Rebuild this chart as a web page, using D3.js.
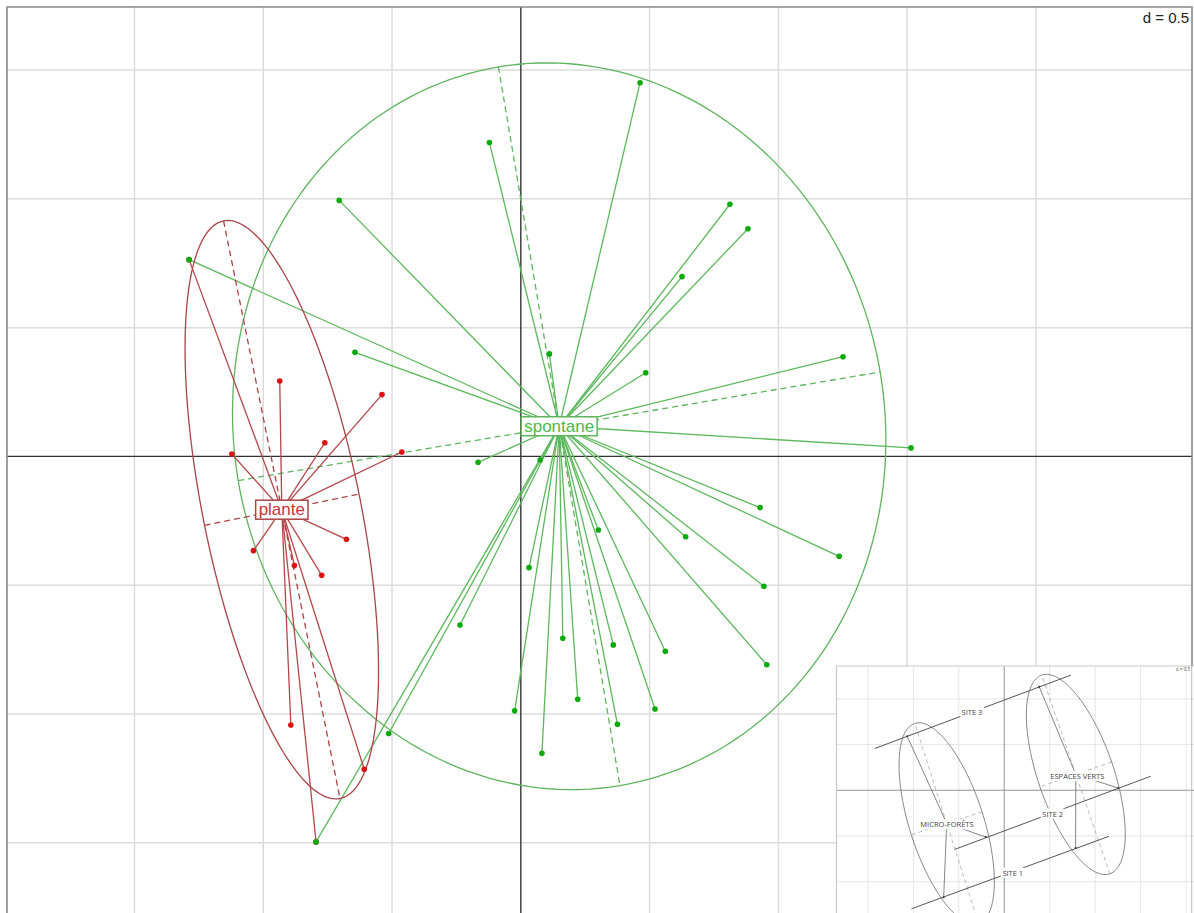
<!DOCTYPE html>
<html><head><meta charset="utf-8">
<script src="https://cdn.jsdelivr.net/npm/d3@7"></script>
<style>body{margin:0;background:#fff}svg{display:block}</style>
</head><body><svg id="c" width="1194" height="913"></svg>
<script>
// ---------- main chart data (s.class, d = 0.5) ----------
const classNames = ["spontane", "plante"];
const spontaneX = [0.463,-0.122,-0.705,0.812,0.882,0.626,-1.288,-0.644,0.111,0.485,1.251,1.515,-0.166,0.929,0.301,0.640,1.236,0.032,0.944,-0.236,0.163,0.359,0.561,0.955,0.221,-0.024,0.521,0.375,0.082,-0.513,-0.795,0.075];
const spontaneY = [1.451,1.219,0.994,0.979,0.884,0.698,0.764,0.404,0.398,0.325,0.387,0.033,-0.023,-0.199,-0.286,-0.312,-0.388,-0.432,-0.504,-0.655,-0.706,-0.732,-0.757,-0.809,-0.943,-0.988,-0.981,-1.040,-1.153,-1.076,-1.497,-0.014];
const planteX = [-0.936,-0.539,-0.761,-1.122,-0.462,-0.677,-1.038,-0.879,-0.773,-0.893,-0.608,-1.288,-0.795];
const planteY = [0.293,0.240,0.053,0.009,0.017,-0.322,-0.366,-0.424,-0.462,-1.043,-1.215,0.764,-1.497];
const centerX = [0.149, -0.928];
const centerY = [0.117, -0.207];
const ellipseA = [1.415, 1.144];
const ellipseB = [1.264, 0.306];
const ellipseAngle = [-80.4, -78.6];
const gridTicks = [-1.5,-1,-0.5,0,0.5,1,1.5,2];
const xDomain = [-1.995, 2.606];
const yDomain = [-1.773, 1.745];
const gridLabel = "d = 0.5";

// ---------- inset data ----------
const insetClasses = ["MICRO-FORÊTS", "ESPACES VERTS"];
const insetCenterX = [-0.633, 0.787];
const insetCenterY = [-0.362, 0.173];
const insetA = [1.148, 1.150];
const insetB = [0.409, 0.417];
const insetAngle = [107.8, 109.0];
const insetLabelX = [-0.630, 0.804];
const insetLabelY = [-0.373, 0.157];
const microX = [-1.068, -0.202, -0.666];
const microY = [0.592, -0.512, -1.170];
const espacesX = [0.384, 1.253, 0.785];
const espacesY = [1.133, 0.025, -0.633];
const siteNames = ["SITE 3", "SITE 2", "SITE 1"];
const siteX1 = [-1.425, -0.545, -1.020];
const siteY1 = [0.457, -0.647, -1.297];
const siteX2 = [0.735, 1.612, 1.151];
const siteY2 = [1.261, 0.154, -0.504];
const siteLabelX = [-0.355, 0.533, 0.094];
const siteLabelY = [0.859, -0.255, -0.902];
const insetTicks = [-1.5,-1,-0.5,0,0.5,1,1.5,2];
const insetXDomain = [-1.845, 2.065];
const insetYDomain = [-1.343, 1.360];

// ---------- styles ----------
const colLine = ["#5cb85c", "#b4474b"];
const colPoint = ["#0aaa0a", "#dd1111"];
const colEll = ["#5fb45f", "#a94448"];
const colText = ["#4cb84c", "#c8323c"];

const svg = d3.select("#c");
const W = 1194, H = 913;
svg.append("rect").attr("width", W).attr("height", H).attr("fill", "#fff");

const x = d3.scaleLinear().domain(xDomain).range([7, 1192]);
const y = d3.scaleLinear().domain(yDomain).range([913, 7]);

svg.append("clipPath").attr("id","clipMain").append("rect").attr("x",7).attr("y",7).attr("width",1185).attr("height",920);
const g = svg.append("g").attr("clip-path","url(#clipMain)");

// grid
g.selectAll(".gv").data(gridTicks.filter(t => t !== 0)).join("line")
  .attr("x1", d => x(d)).attr("x2", d => x(d)).attr("y1", 7).attr("y2", 920)
  .attr("stroke", "#dcdcdc").attr("stroke-width", 1.5);
g.selectAll(".gh").data(gridTicks.filter(t => t !== 0 && t > yDomain[0] && t < yDomain[1])).join("line")
  .attr("y1", d => y(d)).attr("y2", d => y(d)).attr("x1", 7).attr("x2", 1192)
  .attr("stroke", "#dcdcdc").attr("stroke-width", 1.5);
// axes
g.append("line").attr("x1", x(0)).attr("x2", x(0)).attr("y1", 7).attr("y2", 920).attr("stroke", "#333").attr("stroke-width", 1.4);
g.append("line").attr("y1", y(0)).attr("y2", y(0)).attr("x1", 7).attr("x2", 1192).attr("stroke", "#333").attr("stroke-width", 1.4);

function ellipsePts(cx, cy, a, b, angDeg, sx, sy) {
  const th = angDeg * Math.PI / 180, pts = [];
  for (let i = 0; i <= 200; i++) {
    const t = i / 200 * 2 * Math.PI;
    const ex = cx + a * Math.cos(t) * Math.cos(th) - b * Math.sin(t) * Math.sin(th);
    const ey = cy + a * Math.cos(t) * Math.sin(th) + b * Math.sin(t) * Math.cos(th);
    pts.push([sx(ex), sy(ey)]);
  }
  return pts;
}
function axesSegs(cx, cy, a, b, angDeg, sx, sy) {
  const th = angDeg * Math.PI / 180;
  const ux = Math.cos(th), uy = Math.sin(th), vx = -Math.sin(th), vy = Math.cos(th);
  return [
    [sx(cx - a*ux), sy(cy - a*uy), sx(cx + a*ux), sy(cy + a*uy)],
    [sx(cx - b*vx), sy(cy - b*vy), sx(cx + b*vx), sy(cy + b*vy)]
  ];
}
const lineGen = d3.line();
const pointsX = [spontaneX, planteX], pointsY = [spontaneY, planteY];

// ellipses, axes, star lines
for (let k = 0; k < 2; k++) {
  g.append("path").attr("d", lineGen(ellipsePts(centerX[k], centerY[k], ellipseA[k], ellipseB[k], ellipseAngle[k], x, y)))
    .attr("fill", "none").attr("stroke", colEll[k]).attr("stroke-width", 1.3);
  axesSegs(centerX[k], centerY[k], ellipseA[k], ellipseB[k], ellipseAngle[k], x, y).forEach(s => {
    g.append("line").attr("x1", s[0]).attr("y1", s[1]).attr("x2", s[2]).attr("y2", s[3])
      .attr("stroke", colEll[k]).attr("stroke-width", 1.3).attr("stroke-dasharray", "6,4");
  });
  g.selectAll(null).data(d3.range(pointsX[k].length)).join("line")
    .attr("x1", x(centerX[k])).attr("y1", y(centerY[k]))
    .attr("x2", i => x(pointsX[k][i])).attr("y2", i => y(pointsY[k][i]))
    .attr("stroke", colLine[k]).attr("stroke-width", 1.3);
}
// points (red first, green on top)
for (const k of [1, 0]) {
  g.selectAll(null).data(d3.range(pointsX[k].length)).join("circle")
    .attr("cx", i => x(pointsX[k][i])).attr("cy", i => y(pointsY[k][i])).attr("r", 2.8)
    .attr("fill", colPoint[k]);
}
// labels with white boxes
function boxedText(parent, tx, ty, s, opts) {
  const grp = parent.append("g");
  const r = grp.append("rect");
  const t = grp.append("text").attr("x", tx).attr("y", ty)
    .attr("text-anchor", opts.anchor || "middle").attr("dominant-baseline", opts.baseline || "central")
    .attr("font-family", opts.family).attr("font-size", opts.size)
    .attr("fill", opts.color).text(s);
  const bb = t.node().getBBox();
  r.attr("x", bb.x - opts.padX).attr("y", bb.y - opts.padY).attr("width", bb.width + 2 * opts.padX).attr("height", bb.height + 2 * opts.padY)
    .attr("fill", "#fff").attr("stroke", opts.stroke || "none").attr("stroke-width", opts.strokeWidth || 0);
  return grp;
}
for (let k = 0; k < 2; k++) {
  boxedText(g, x(centerX[k]), y(centerY[k]), classNames[k], {
    family: "Liberation Sans, Arial, sans-serif", size: 17, color: colText[k],
    padX: 3, padY: 0, stroke: colEll[k], strokeWidth: 1.5
  });
}
// d = 0.5
boxedText(svg, 1189, 23, gridLabel, {
  family: "Liberation Sans, Arial, sans-serif", size: 15, color: "#222", anchor: "end", baseline: "auto",
  padX: 1, padY: 0
});
// frame
svg.append("path").attr("d", "M7,920 L7,7 L1192,7 L1192,920").attr("fill", "none").attr("stroke", "#888").attr("stroke-width", 1.6);

// ---------- inset ----------
const ix0 = 836.5, iy0 = 666;
const ix = d3.scaleLinear().domain(insetXDomain).range([ix0, 1192]);
const iy = d3.scaleLinear().domain(insetYDomain).range([913, iy0]);
svg.append("clipPath").attr("id", "clipInset").append("rect").attr("x", ix0).attr("y", iy0).attr("width", W - ix0).attr("height", H - iy0);
const ig = svg.append("g").attr("clip-path", "url(#clipInset)");
ig.append("rect").attr("x", ix0).attr("y", iy0).attr("width", W - ix0).attr("height", H - iy0).attr("fill", "#fff");
ig.selectAll(null).data(insetTicks.filter(t => t !== 0)).join("line")
  .attr("x1", d => ix(d)).attr("x2", d => ix(d)).attr("y1", iy0).attr("y2", H).attr("stroke", "#e6e6e6").attr("stroke-width", 1);
ig.selectAll(null).data(insetTicks.filter(t => t !== 0)).join("line")
  .attr("y1", d => iy(d)).attr("y2", d => iy(d)).attr("x1", ix0).attr("x2", W).attr("stroke", "#e6e6e6").attr("stroke-width", 1);
ig.append("line").attr("x1", ix(0)).attr("x2", ix(0)).attr("y1", iy0).attr("y2", H).attr("stroke", "#8a8a8a").attr("stroke-width", 0.9);
ig.append("line").attr("y1", iy(0)).attr("y2", iy(0)).attr("x1", ix0).attr("x2", W).attr("stroke", "#8a8a8a").attr("stroke-width", 0.9);
const insetPX = [microX, espacesX], insetPY = [microY, espacesY];
for (let k = 0; k < 2; k++) {
  ig.append("path").attr("d", lineGen(ellipsePts(insetCenterX[k], insetCenterY[k], insetA[k], insetB[k], insetAngle[k], ix, iy)))
    .attr("fill", "none").attr("stroke", "#777").attr("stroke-width", 0.9);
  axesSegs(insetCenterX[k], insetCenterY[k], insetA[k], insetB[k], insetAngle[k], ix, iy).forEach(s => {
    ig.append("line").attr("x1", s[0]).attr("y1", s[1]).attr("x2", s[2]).attr("y2", s[3])
      .attr("stroke", "#aaa").attr("stroke-width", 0.8).attr("stroke-dasharray", "4,3");
  });
  ig.selectAll(null).data(d3.range(insetPX[k].length)).join("line")
    .attr("x1", ix(insetCenterX[k])).attr("y1", iy(insetCenterY[k]))
    .attr("x2", i => ix(insetPX[k][i])).attr("y2", i => iy(insetPY[k][i]))
    .attr("stroke", "#777").attr("stroke-width", 0.9);
}
ig.selectAll(null).data(siteNames).join("line")
  .attr("x1", (d, i) => ix(siteX1[i])).attr("y1", (d, i) => iy(siteY1[i]))
  .attr("x2", (d, i) => ix(siteX2[i])).attr("y2", (d, i) => iy(siteY2[i]))
  .attr("stroke", "#555").attr("stroke-width", 1);
for (let k = 0; k < 2; k++) {
  ig.selectAll(null).data(d3.range(insetPX[k].length)).join("circle")
    .attr("cx", i => ix(insetPX[k][i])).attr("cy", i => iy(insetPY[k][i])).attr("r", 1).attr("fill", "#333");
}
const insetOpts = { family: "Open Sans, Liberation Sans, sans-serif", size: 7.5, color: "#444", padX: 1.5, padY: 0 };
siteNames.forEach((s, i) => boxedText(ig, ix(siteLabelX[i]), iy(siteLabelY[i]), s, insetOpts));
insetClasses.forEach((s, i) => boxedText(ig, ix(insetLabelX[i]), iy(insetLabelY[i]), s, insetOpts));
ig.append("text").attr("x", 1190).attr("y", 671).attr("text-anchor", "end").attr("font-family", "Liberation Sans, sans-serif")
  .attr("font-size", 4.5).attr("fill", "#666").text(gridLabel);
ig.append("line").attr("x1", 1191.7).attr("x2", 1191.7).attr("y1", iy0).attr("y2", H).attr("stroke", "#bbb").attr("stroke-width", 1);
svg.append("path").attr("d", `M${ix0},${H} L${ix0},${iy0} L${W},${iy0}`).attr("fill", "none").attr("stroke", "#c8c8c8").attr("stroke-width", 1.2);
</script></body></html>
